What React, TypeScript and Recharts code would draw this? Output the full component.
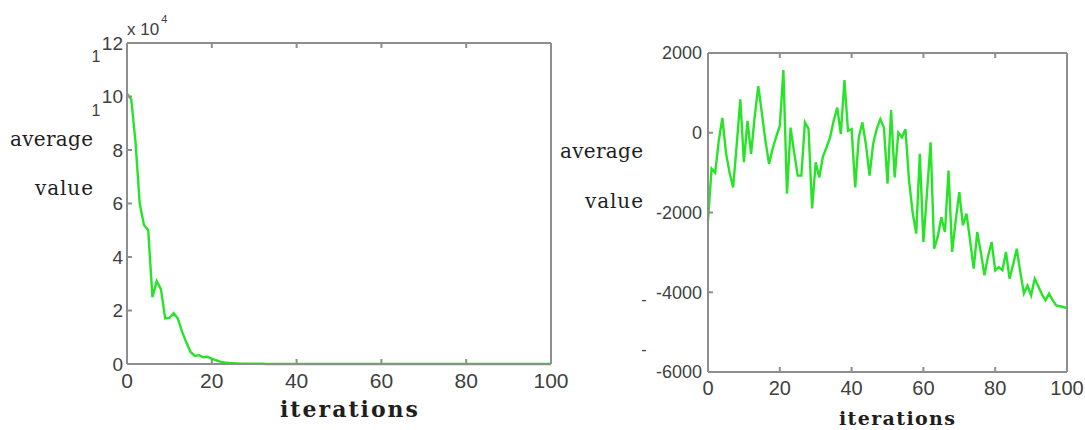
import React from 'react';
import { LineChart, Line, XAxis, YAxis } from 'recharts';

// Left panel: average value per iteration, in units of 10^4
const LEFT_AVG = [
  10.1, 9.9, 8.3, 6.0, 5.2, 5.0, 2.5, 3.1, 2.8, 1.7,
  1.72, 1.9, 1.7, 1.2, 0.8, 0.45, 0.3, 0.33, 0.25, 0.27,
  0.2, 0.14, 0.09, 0.06, 0.04, 0.03, 0.02, 0.01, 0.01, 0.01,
  0.01, 0.01, 0.01, 0, 0, 0, 0, 0, 0, 0,
  0, 0, 0, 0, 0, 0, 0, 0, 0, 0,
  0, 0, 0, 0, 0, 0, 0, 0, 0, 0,
  0, 0, 0, 0, 0, 0, 0, 0, 0, 0,
  0, 0, 0, 0, 0, 0, 0, 0, 0, 0,
  0, 0, 0, 0, 0, 0, 0, 0, 0, 0,
  0, 0, 0, 0, 0, 0, 0, 0, 0, 0,
  0,
];

// Right panel: average value per iteration
const RIGHT_AVG = [
  -2200, -900, -1000, -200, 370, -500, -1000, -1370, -300, 840,
  -740, 300, -530, 400, 1170, 500, -200, -780, -400, -100,
  170, 1570, -1530, 130, -500, -1075, -1075, 260, 100, -1900,
  -740, -1120, -600, -370, -115, 300, 630, -35, 1320, 50,
  90, -1370, -115, 260, -300, -1075, -280, 100, 340, 130,
  -1280, 570, -1120, 0, -115, 90, -1200, -2000, -2530, -530,
  -2740, -1500, -240, -2910, -2600, -2120, -2490, -950, -2990, -2200,
  -1490, -2320, -2030, -2700, -3410, -2490, -3000, -3575, -3100, -2740,
  -3450, -3370, -3450, -2990, -3660, -3300, -2910, -3500, -4030, -3830,
  -4080, -3660, -3850, -4050, -4200, -4030, -4200, -4330, -4350, -4370,
  -4400,
];

const X_TICKS = [0, 20, 40, 60, 80, 100];
const LEFT_Y_TICKS = [0, 2, 4, 6, 8, 10, 12];
const RIGHT_Y_TICKS = [-6000, -4000, -2000, 0, 2000];

const leftRows = LEFT_AVG.map((avg, iter) => ({ iter, avg }));
const rightRows = RIGHT_AVG.map((avg, iter) => ({ iter, avg }));

const TICK_FONT = '"Liberation Sans", Arial, sans-serif';
const LABEL_FONT = '"DejaVu Serif", "Liberation Serif", serif';
const AXIS_COLOR = '#8e8e8e';
const TICK_COLOR = '#404040';
const LABEL_COLOR = '#1e1e1e';
const LINE_COLOR = '#28e428';

const noLabel = () => '';

// Axis title text stretched to a fixed width, spaced like a typewriter face
function Title(props: any) {
  const { x, y, anchor, size, width, weight, children } = props;
  return (
    <text
      x={x}
      y={y}
      dy="0.3em"
      textAnchor={anchor}
      fontFamily={LABEL_FONT}
      fontSize={size}
      fontWeight={weight || 'normal'}
      fill={LABEL_COLOR}
      textLength={width}
      lengthAdjust="spacing"
    >
      {children}
    </text>
  );
}

function LeftYTick(props: any) {
  const { x, y, payload } = props;
  const v = payload.value;
  return (
    <g>
      <text x={x} y={y} dy="0.36em" textAnchor="end" fontFamily={TICK_FONT} fontSize={19} fill={TICK_COLOR}>
        {v}
      </text>
      {v >= 10 && (
        <text x={x - 27} y={y + 19} textAnchor="middle" fontFamily={TICK_FONT} fontSize={16} fill={TICK_COLOR}>
          1
        </text>
      )}
    </g>
  );
}

function LeftYLabel(props: any) {
  const vb = props.viewBox || { x: 77, y: 43, width: 50, height: 321 };
  const right = vb.x + 16;
  const plotLeft = vb.x + vb.width;
  return (
    <g>
      <Title x={right - 83} y={vb.y + 97} anchor="start" size={20} width={83}>
        average
      </Title>
      <Title x={right - 58} y={vb.y + 146} anchor="start" size={20} width={58}>
        value
      </Title>
      <text x={plotLeft} y={vb.y - 8} fontFamily={TICK_FONT} fontSize={17} fill={TICK_COLOR}>
        x 10
        <tspan dx={2} dy={-12} fontSize={11}>
          4
        </tspan>
      </text>
    </g>
  );
}

function RightYLabel(props: any) {
  const vb = props.viewBox || { x: 88, y: 53, width: 60, height: 319 };
  const right = vb.x - 5;
  return (
    <g>
      <Title x={right - 83} y={vb.y + 99} anchor="start" size={20} width={83}>
        average
      </Title>
      <Title x={right - 58} y={vb.y + 149} anchor="start" size={20} width={58}>
        value
      </Title>
      <text x={right + 1} y={vb.y + 252} textAnchor="middle" fontFamily={TICK_FONT} fontSize={16} fill={TICK_COLOR}>
        -
      </text>
      <text x={right + 1} y={vb.y + 302} textAnchor="middle" fontFamily={TICK_FONT} fontSize={16} fill={TICK_COLOR}>
        -
      </text>
    </g>
  );
}

function XLabel(props: any) {
  const vb = props.viewBox;
  const { dx, dy, size, width } = props;
  const cx = vb.x + vb.width / 2 + dx;
  return (
    <Title x={cx - width / 2} y={vb.y + dy} anchor="start" size={size} width={width} weight={600}>
      iterations
    </Title>
  );
}

function LeftPanel() {
  return (
    <LineChart width={600} height={430} data={leftRows} margin={{ top: 42, right: 48, bottom: 36, left: 77 }}>
      <XAxis
        xAxisId="bottom"
        dataKey="iter"
        type="number"
        domain={[0, 100]}
        ticks={X_TICKS}
        height={30}
        stroke={AXIS_COLOR}
        strokeWidth={2}
        tickSize={-5}
        tickMargin={14}
        tick={{ fill: TICK_COLOR, fontSize: 21, fontFamily: TICK_FONT }}
        label={{ content: (p: any) => <XLabel {...p} dx={10} dy={46} size={22} width={138} /> }}
      />
      <XAxis
        xAxisId="top"
        dataKey="iter"
        type="number"
        orientation="top"
        domain={[0, 100]}
        ticks={X_TICKS}
        height={1}
        stroke={AXIS_COLOR}
        strokeWidth={2}
        tickSize={-5}
        tickFormatter={noLabel}
      />
      <YAxis
        yAxisId="left"
        type="number"
        domain={[0, 12]}
        ticks={LEFT_Y_TICKS}
        width={50}
        stroke={AXIS_COLOR}
        strokeWidth={2}
        tickSize={-5}
        tickMargin={9}
        tick={<LeftYTick />}
        label={{ content: (p: any) => <LeftYLabel {...p} /> }}
      />
      <YAxis
        yAxisId="right"
        orientation="right"
        type="number"
        domain={[0, 12]}
        ticks={LEFT_Y_TICKS}
        width={1}
        stroke={AXIS_COLOR}
        strokeWidth={2}
        tickSize={-5}
        tickFormatter={noLabel}
      />
      <Line
        xAxisId="bottom"
        yAxisId="left"
        type="linear"
        dataKey="avg"
        stroke={LINE_COLOR}
        strokeWidth={2.4}
        dot={false}
        isAnimationActive={false}
      />
    </LineChart>
  );
}

function RightPanel() {
  return (
    <LineChart width={525} height={430} data={rightRows} margin={{ top: 52, right: 17, bottom: 28, left: 88 }}>
      <XAxis
        xAxisId="bottom"
        dataKey="iter"
        type="number"
        domain={[0, 100]}
        ticks={X_TICKS}
        height={30}
        stroke={AXIS_COLOR}
        strokeWidth={2}
        tickSize={-5}
        tickMargin={14}
        tick={{ fill: TICK_COLOR, fontSize: 20, fontFamily: TICK_FONT }}
        label={{ content: (p: any) => <XLabel {...p} dx={9.5} dy={47} size={19} width={116} /> }}
      />
      <XAxis
        xAxisId="top"
        dataKey="iter"
        type="number"
        orientation="top"
        domain={[0, 100]}
        ticks={X_TICKS}
        height={1}
        stroke={AXIS_COLOR}
        strokeWidth={2}
        tickSize={-5}
        tickFormatter={noLabel}
      />
      <YAxis
        yAxisId="left"
        type="number"
        domain={[-6000, 2000]}
        ticks={RIGHT_Y_TICKS}
        width={60}
        stroke={AXIS_COLOR}
        strokeWidth={2}
        tickSize={-5}
        tickMargin={11}
        tick={{ fill: TICK_COLOR, fontSize: 18, fontFamily: TICK_FONT }}
        label={{ content: (p: any) => <RightYLabel {...p} /> }}
      />
      <YAxis
        yAxisId="right"
        orientation="right"
        type="number"
        domain={[-6000, 2000]}
        ticks={RIGHT_Y_TICKS}
        width={1}
        stroke={AXIS_COLOR}
        strokeWidth={2}
        tickSize={-5}
        tickFormatter={noLabel}
      />
      <Line
        xAxisId="bottom"
        yAxisId="left"
        type="linear"
        dataKey="avg"
        stroke={LINE_COLOR}
        strokeWidth={2.4}
        dot={false}
        isAnimationActive={false}
      />
    </LineChart>
  );
}

export default function App() {
  return (
    <div style={{ position: 'absolute', left: 0, top: 0, width: 1085, height: 430, background: '#ffffff', overflow: 'hidden' }}>
      <div style={{ position: 'absolute', left: 0, top: 0 }}>
        <LeftPanel />
      </div>
      <div style={{ position: 'absolute', left: 560, top: 0 }}>
        <RightPanel />
      </div>
    </div>
  );
}
